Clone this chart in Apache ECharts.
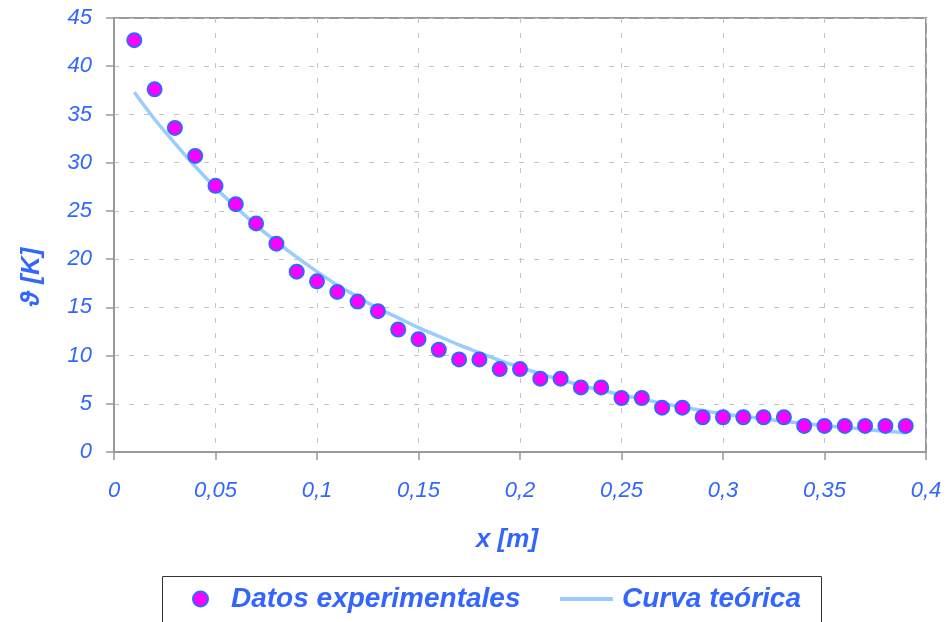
<!DOCTYPE html>
<html><head><meta charset="utf-8">
<script src="https://cdn.jsdelivr.net/npm/echarts@6/dist/echarts.min.js"></script>
<style>html,body{margin:0;padding:0;background:#fff}#c{width:950px;height:622px}</style>
</head><body><div id="c"></div>
<script>
const xValues = [0.01,0.02,0.03,0.04,0.05,0.06,0.07,0.08,0.09,0.10,0.11,0.12,0.13,0.14,0.15,0.16,0.17,0.18,0.19,0.20,0.21,0.22,0.23,0.24,0.25,0.26,0.27,0.28,0.29,0.30,0.31,0.32,0.33,0.34,0.35,0.36,0.37,0.38,0.39];
const experimental = [42.7,37.6,33.6,30.7,27.6,25.7,23.7,21.6,18.7,17.7,16.6,15.6,14.6,12.7,11.7,10.6,9.6,9.6,8.6,8.6,7.6,7.6,6.7,6.7,5.6,5.6,4.6,4.6,3.6,3.6,3.6,3.6,3.6,2.7,2.7,2.7,2.7,2.7,2.7];
const theoretical = [37.3,34.5,32.0,29.6,27.4,25.4,23.5,21.8,20.2,18.7,17.3,16.1,14.9,13.9,12.9,12.0,11.1,10.3,9.5,8.8,8.1,7.5,6.9,6.4,5.9,5.5,5.05,4.65,4.3,3.95,3.7,3.45,3.2,2.95,2.75,2.55,2.35,2.15,2.0];
const xTicks = {min: 0, max: 0.4, interval: 0.05};
const yTicks = {min: 0, max: 45, interval: 5};
const seriesNames = ['Datos experimentales', 'Curva teórica'];

const blue = '#3366FF';
const fontFam = '"Liberation Sans", Arial, sans-serif';
const fmt = v => String(+v.toFixed(2)).replace('.', ',');

const chart = echarts.init(document.getElementById('c'));
chart.setOption({
  animation: false,
  backgroundColor: '#fff',
  grid: {left: 114, right: 24, top: 18, bottom: 170, show: true, borderColor: '#999', borderWidth: 2, backgroundColor: 'transparent'},
  xAxis: {
    type: 'value', min: xTicks.min, max: xTicks.max, interval: xTicks.interval,
    name: 'x [m]', nameLocation: 'middle', nameGap: 75,
    nameTextStyle: {color: blue, fontFamily: fontFam, fontSize: 26, fontWeight: 'bold', fontStyle: 'italic', padding: [0, 26, 0, 0]},
    axisLine: {lineStyle: {color: '#999', width: 2}},
    axisTick: {show: true, length: 8, lineStyle: {color: '#999', width: 1.5}},
    axisLabel: {formatter: fmt, color: blue, fontFamily: fontFam, fontSize: 22, fontStyle: 'italic', margin: 28},
    splitLine: {show: true, lineStyle: {color: '#c4c4c4', width: 1, type: [5, 10]}}
  },
  yAxis: {
    type: 'value', min: yTicks.min, max: yTicks.max, interval: yTicks.interval,
    name: 'ϑ [K]', nameLocation: 'middle', nameGap: 69,
    nameTextStyle: {color: blue, fontFamily: fontFam, fontSize: 26, fontWeight: 'bold', fontStyle: 'italic', padding: [0, 84, 0, 0]},
    axisLine: {show: true, lineStyle: {color: '#999', width: 2}},
    axisTick: {show: true, length: 8, lineStyle: {color: '#999', width: 1.5}},
    axisLabel: {formatter: fmt, color: blue, fontFamily: fontFam, fontSize: 22, fontStyle: 'italic', margin: 22},
    splitLine: {show: true, lineStyle: {color: '#c4c4c4', width: 1, type: [5, 10]}}
  },
  graphic: [{type: 'rect', left: 160, top: 574, shape: {width: 659, height: 60}, style: {fill: 'none', stroke: '#333', lineWidth: 1}, silent: true}],
  legend: [
    {data: [{name: seriesNames[0], icon: 'circle'}], left: 187, top: 580, itemWidth: 15, itemHeight: 15, itemGap: 0,
     textStyle: {color: blue, fontFamily: fontFam, fontSize: 28, fontWeight: 'bold', fontStyle: 'italic', padding: [0, 0, 0, 18]}},
    {data: [{name: seriesNames[1], icon: 'rect'}], left: 555, top: 580, itemWidth: 53, itemHeight: 4, itemGap: 0,
     textStyle: {color: blue, fontFamily: fontFam, fontSize: 28, fontWeight: 'bold', fontStyle: 'italic', padding: [0, 0, 0, 4]}}
  ],
  series: [
    {name: seriesNames[1], type: 'line', data: xValues.map((x, i) => [x, theoretical[i]]), showSymbol: false, smooth: 0.3,
     lineStyle: {color: '#99CCFF', width: 3.5}, itemStyle: {color: '#99CCFF'}, z: 2},
    {name: seriesNames[0], type: 'scatter', data: xValues.map((x, i) => [x, experimental[i]]), symbol: 'circle', symbolSize: 14,
     itemStyle: {color: '#FF00FF', borderColor: blue, borderWidth: 2, opacity: 1}, z: 3}
  ]
});
</script></body></html>
